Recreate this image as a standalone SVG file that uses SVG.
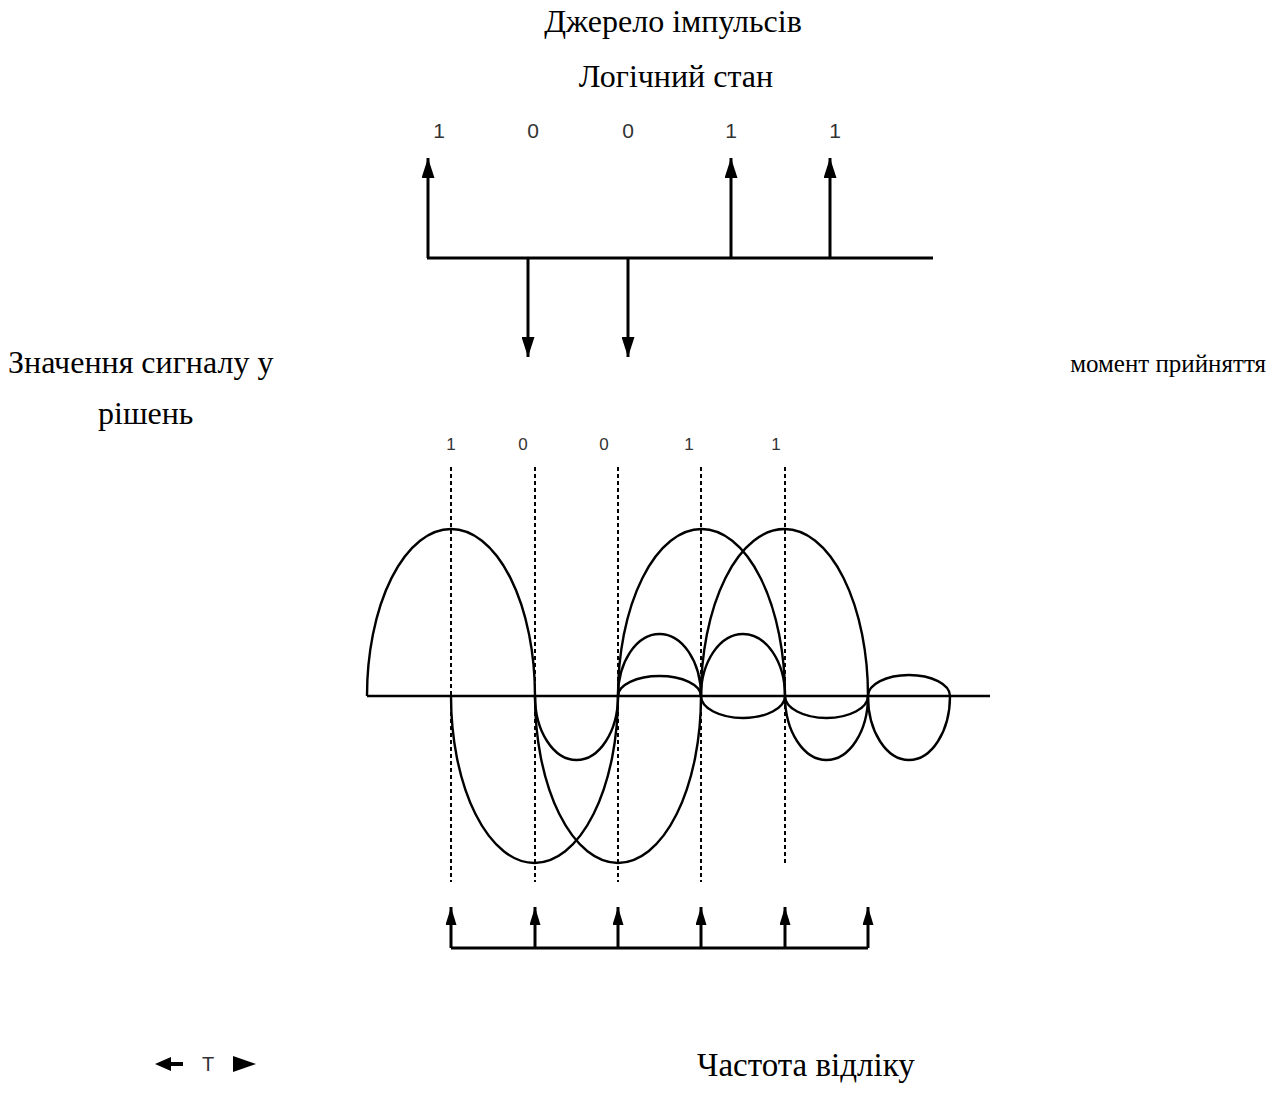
<svg xmlns="http://www.w3.org/2000/svg" width="1287" height="1103" viewBox="0 0 1287 1103">
<style>
.t{font-family:"Liberation Serif","DejaVu Serif",serif;font-size:32px;fill:#000}
.d{font-family:"Liberation Sans","DejaVu Sans",sans-serif;font-size:21px;fill:#333;text-anchor:middle}
.ds{font-family:"Liberation Sans","DejaVu Sans",sans-serif;font-size:17px;fill:#333;text-anchor:middle}
.ln{stroke:#000;stroke-width:3;fill:none}
.cv{stroke:#000;stroke-width:2.4;fill:none}
.dash{stroke:#000;stroke-width:2;stroke-dasharray:4 3;fill:none}
</style>
<defs>
<marker id="ah" viewBox="0 0 18 11" refX="18" refY="5.5" markerWidth="18" markerHeight="11" markerUnits="userSpaceOnUse" orient="auto">
<path d="M0,0 L18,5.5 L0,11 Z" fill="#000"/>
</marker>
<marker id="ah2" viewBox="0 0 20 13" refX="20" refY="6.5" markerWidth="20" markerHeight="13" markerUnits="userSpaceOnUse" orient="auto">
<path d="M0,0 L20,6.5 L0,13 Z" fill="#000"/>
</marker>
</defs>
<rect width="1287" height="1103" fill="#fff"/>

<g id="titles">
<text class="t" x="673" y="32" text-anchor="middle">Джерело імпульсів</text>
<text class="t" x="676" y="87" text-anchor="middle">Логічний стан</text>
<text class="t" x="8" y="373">Значення сигналу у</text>
<text class="t" x="1266" y="372" text-anchor="end" style="font-size:25px">момент прийняття</text>
<text class="t" x="98" y="424">рішень</text>
<text class="t" x="697" y="1076" style="font-size:33px">Частота відліку</text>
</g>

<g id="source-labels">
<text class="d" x="439" y="138">1</text>
<text class="d" x="533" y="138">0</text>
<text class="d" x="628" y="138">0</text>
<text class="d" x="731" y="138">1</text>
<text class="d" x="835" y="138">1</text>
</g>

<g id="source-pulses">
<line class="ln" x1="427" y1="258" x2="933" y2="258"/>
<line class="ln" x1="428" y1="258" x2="428" y2="158" marker-end="url(#ah2)"/>
<line class="ln" x1="731" y1="258" x2="731" y2="158" marker-end="url(#ah2)"/>
<line class="ln" x1="830" y1="258" x2="830" y2="158" marker-end="url(#ah2)"/>
<line class="ln" x1="528" y1="258" x2="528" y2="357" marker-end="url(#ah2)"/>
<line class="ln" x1="628" y1="258" x2="628" y2="357" marker-end="url(#ah2)"/>
</g>

<g id="decision-labels">
<text class="ds" x="451" y="450">1</text>
<text class="ds" x="523" y="450">0</text>
<text class="ds" x="604" y="450">0</text>
<text class="ds" x="689" y="450">1</text>
<text class="ds" x="776" y="450">1</text>
</g>

<g id="decision-lines">
<line class="dash" x1="451" y1="467" x2="451" y2="882"/>
<line class="dash" x1="535" y1="467" x2="535" y2="882"/>
<line class="dash" x1="618" y1="467" x2="618" y2="882"/>
<line class="dash" x1="701" y1="467" x2="701" y2="882"/>
<line class="dash" x1="785" y1="467" x2="785" y2="865"/>
</g>

<g id="waveforms">
<line x1="367" y1="696" x2="990" y2="696" stroke="#000" stroke-width="2.6"/>
<path class="cv" d="M367,696 A84,167 0 0 1 535,696"/>
<path class="cv" d="M618,696 A83.5,167 0 0 1 785,696"/>
<path class="cv" d="M701,696 A83.5,167 0 0 1 868,696"/>
<path class="cv" d="M618,696 A41.5,62 0 0 1 701,696"/>
<path class="cv" d="M701,696 A42,62 0 0 1 785,696"/>
<path class="cv" d="M618,696 A41.5,20 0 0 1 701,696"/>
<path class="cv" d="M868,696 A41,21 0 0 1 950,696"/>
<path class="cv" d="M451,696 A83.5,167 0 0 0 618,696"/>
<path class="cv" d="M535,696 A83,167 0 0 0 701,696"/>
<path class="cv" d="M535,696 A41.5,64 0 0 0 618,696"/>
<path class="cv" d="M701,696 A42,22 0 0 0 785,696"/>
<path class="cv" d="M785,696 A41.5,22 0 0 0 868,696"/>
<path class="cv" d="M785,696 A41.5,64 0 0 0 868,696"/>
<path class="cv" d="M868,696 A41,64 0 0 0 950,696"/>
</g>

<g id="sampling-clock">
<polyline class="ln" points="451,948 868,948"/>
<line class="ln" x1="451" y1="948" x2="451" y2="907" marker-end="url(#ah)"/>
<line class="ln" x1="535" y1="948" x2="535" y2="907" marker-end="url(#ah)"/>
<line class="ln" x1="618" y1="948" x2="618" y2="907" marker-end="url(#ah)"/>
<line class="ln" x1="701" y1="948" x2="701" y2="907" marker-end="url(#ah)"/>
<line class="ln" x1="785" y1="948" x2="785" y2="907" marker-end="url(#ah)"/>
<line class="ln" x1="868" y1="948" x2="868" y2="907" marker-end="url(#ah)"/>
</g>

<g id="period">
<path d="M155,1064 L171,1057 L171,1062 L183,1062 L183,1066 L171,1066 L171,1071 Z" fill="#000"/>
<text class="d" x="208" y="1071" style="font-size:20px">T</text>
<path d="M233,1056 L256,1064 L233,1072 Z" fill="#000"/>
</g>
</svg>
